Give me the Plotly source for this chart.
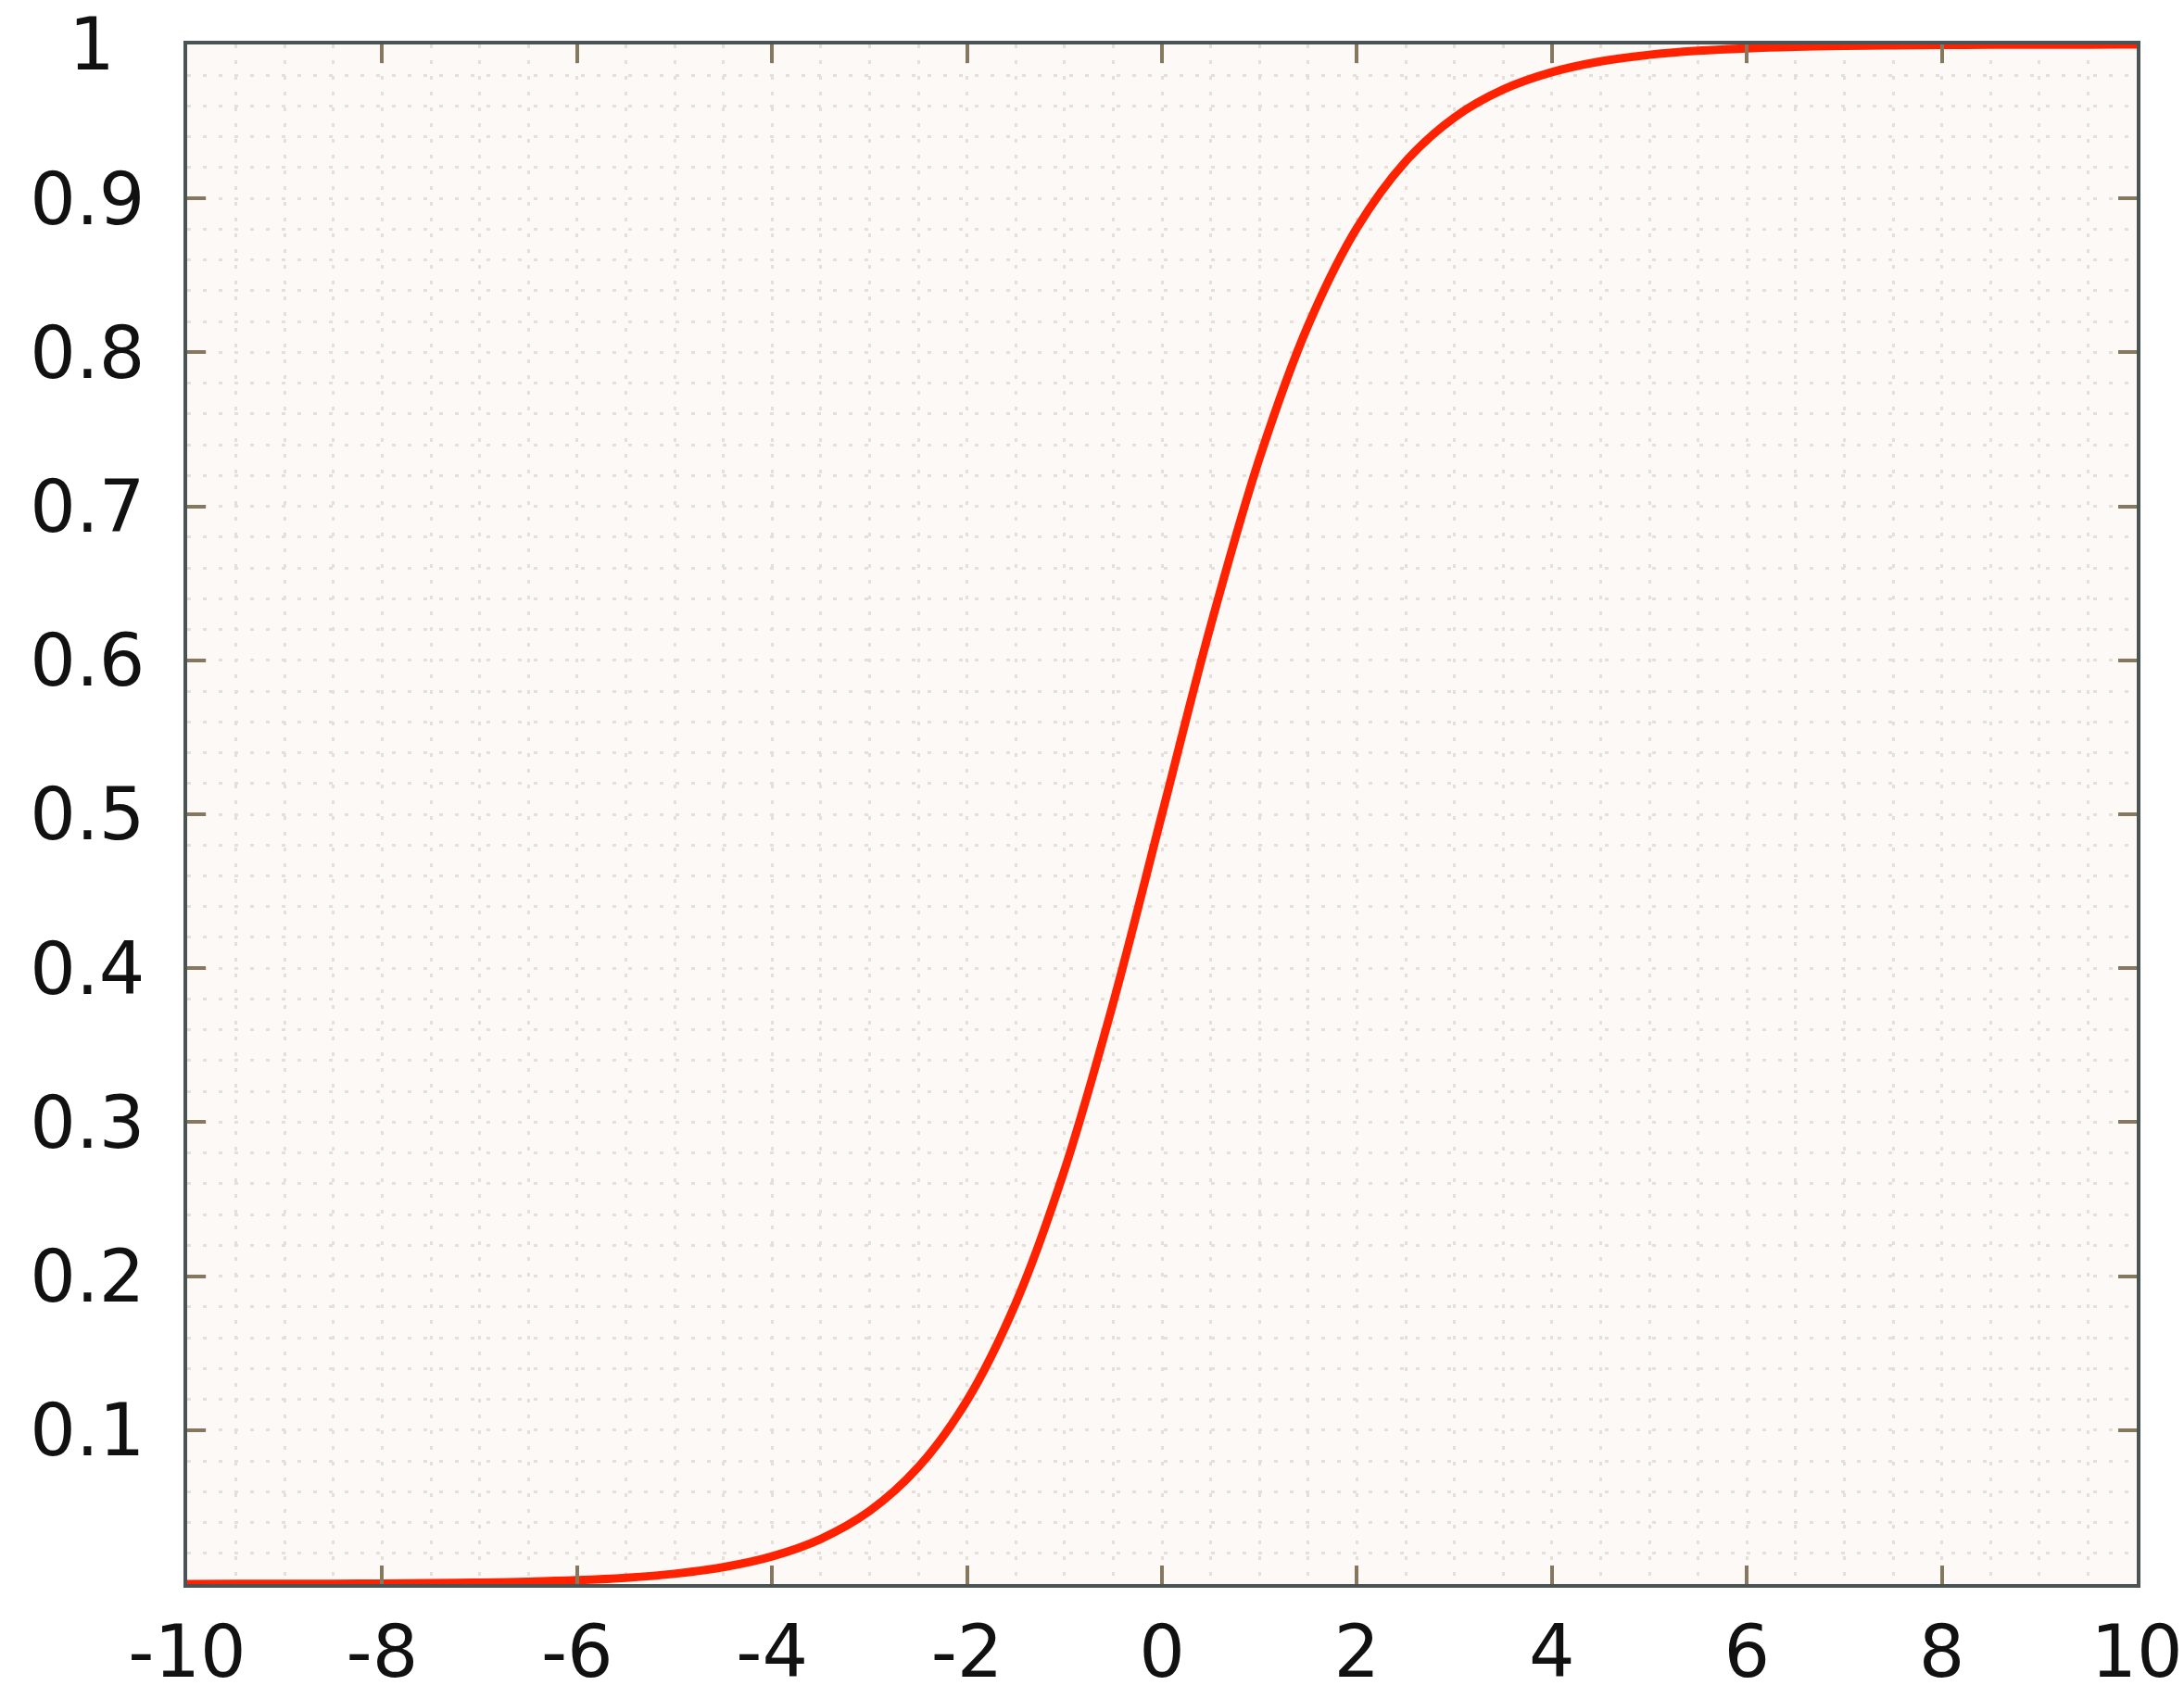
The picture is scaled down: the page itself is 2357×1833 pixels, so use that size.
import plotly.graph_objects as go

# values
x_values = [-10, -9.5, -9, -8.5, -8, -7.5, -7, -6.5, -6, -5.5, -5, -4.5, -4, -3.5, -3, -2.5, -2, -1.5, -1, -0.5,
            0, 0.5, 1, 1.5, 2, 2.5, 3, 3.5, 4, 4.5, 5, 5.5, 6, 6.5, 7, 7.5, 8, 8.5, 9, 9.5, 10]
y_values = [0.0000, 0.0001, 0.0001, 0.0002, 0.0003, 0.0006, 0.0009, 0.0015, 0.0025, 0.0041, 0.0067, 0.0110,
            0.0180, 0.0293, 0.0474, 0.0759, 0.1192, 0.1824, 0.2689, 0.3775, 0.5000, 0.6225, 0.7311, 0.8176,
            0.8808, 0.9241, 0.9526, 0.9707, 0.9820, 0.9890, 0.9933, 0.9959, 0.9975, 0.9985, 0.9991, 0.9994,
            0.9997, 0.9998, 0.9999, 0.9999, 1.0000]

x_tick_values = [-10, -8, -6, -4, -2, 0, 2, 4, 6, 8, 10]
x_tick_labels = ['-10', '-8', '-6', '-4', '-2', '0', '2', '4', '6', '8', '10']
y_tick_values = [0.1, 0.2, 0.3, 0.4, 0.5, 0.6, 0.7, 0.8, 0.9, 1]
y_tick_labels = ['0.1', '0.2', '0.3', '0.4', '0.5', '0.6', '0.7', '0.8', '0.9', '1\u2008\u200a']

font_family = 'DejaVu Sans'
axis_color = '#4b5454'
tick_color = '#86775f'
grid_color = '#e6dfd9'
grid_dash = '4px,13px'

fig = go.Figure()
fig.add_trace(go.Scatter(x=x_values, y=y_values, mode='lines',
                         line=dict(color='#ff2200', width=9, shape='spline', smoothing=1),
                         showlegend=False, cliponaxis=False))

fig.update_xaxes(range=[-10, 10], tickvals=x_tick_values, ticktext=x_tick_labels, automargin=False,
                 showline=True, linecolor=axis_color, linewidth=4, mirror='ticks',
                 ticks='inside', ticklen=20, tickwidth=4, tickcolor=tick_color,
                 showgrid=True, gridcolor=grid_color, gridwidth=3, griddash=grid_dash,
                 minor=dict(dtick=0.5, showgrid=True, gridcolor=grid_color, gridwidth=3, griddash=grid_dash),
                 zeroline=False, ticklabelstandoff=2, ticklabeloverflow='allow',
                 tickfont=dict(family=font_family, size=78, color='#111111'))
fig.update_yaxes(range=[0, 1], tickvals=y_tick_values, ticktext=y_tick_labels, automargin=False,
                 showline=True, linecolor=axis_color, linewidth=4, mirror='ticks',
                 ticks='inside', ticklen=20, tickwidth=4, tickcolor=tick_color,
                 showgrid=True, gridcolor=grid_color, gridwidth=3, griddash=grid_dash,
                 minor=dict(dtick=0.02, tick0=0, showgrid=True, gridcolor=grid_color, gridwidth=3, griddash=grid_dash),
                 zeroline=False, ticklabelstandoff=26, ticklabeloverflow='allow',
                 tickfont=dict(family=font_family, size=78, color='#111111'))

fig.update_layout(width=2357, height=1833,
                  margin=dict(l=202, r=51, t=48, b=123),
                  paper_bgcolor='white', plot_bgcolor='#fdf9f6')

# drop the browser's default 8px body margin so the figure fills the window exactly
fig.write_html("out.html", config={'displayModeBar': False},
               post_script="document.body.style.margin = '0';")
